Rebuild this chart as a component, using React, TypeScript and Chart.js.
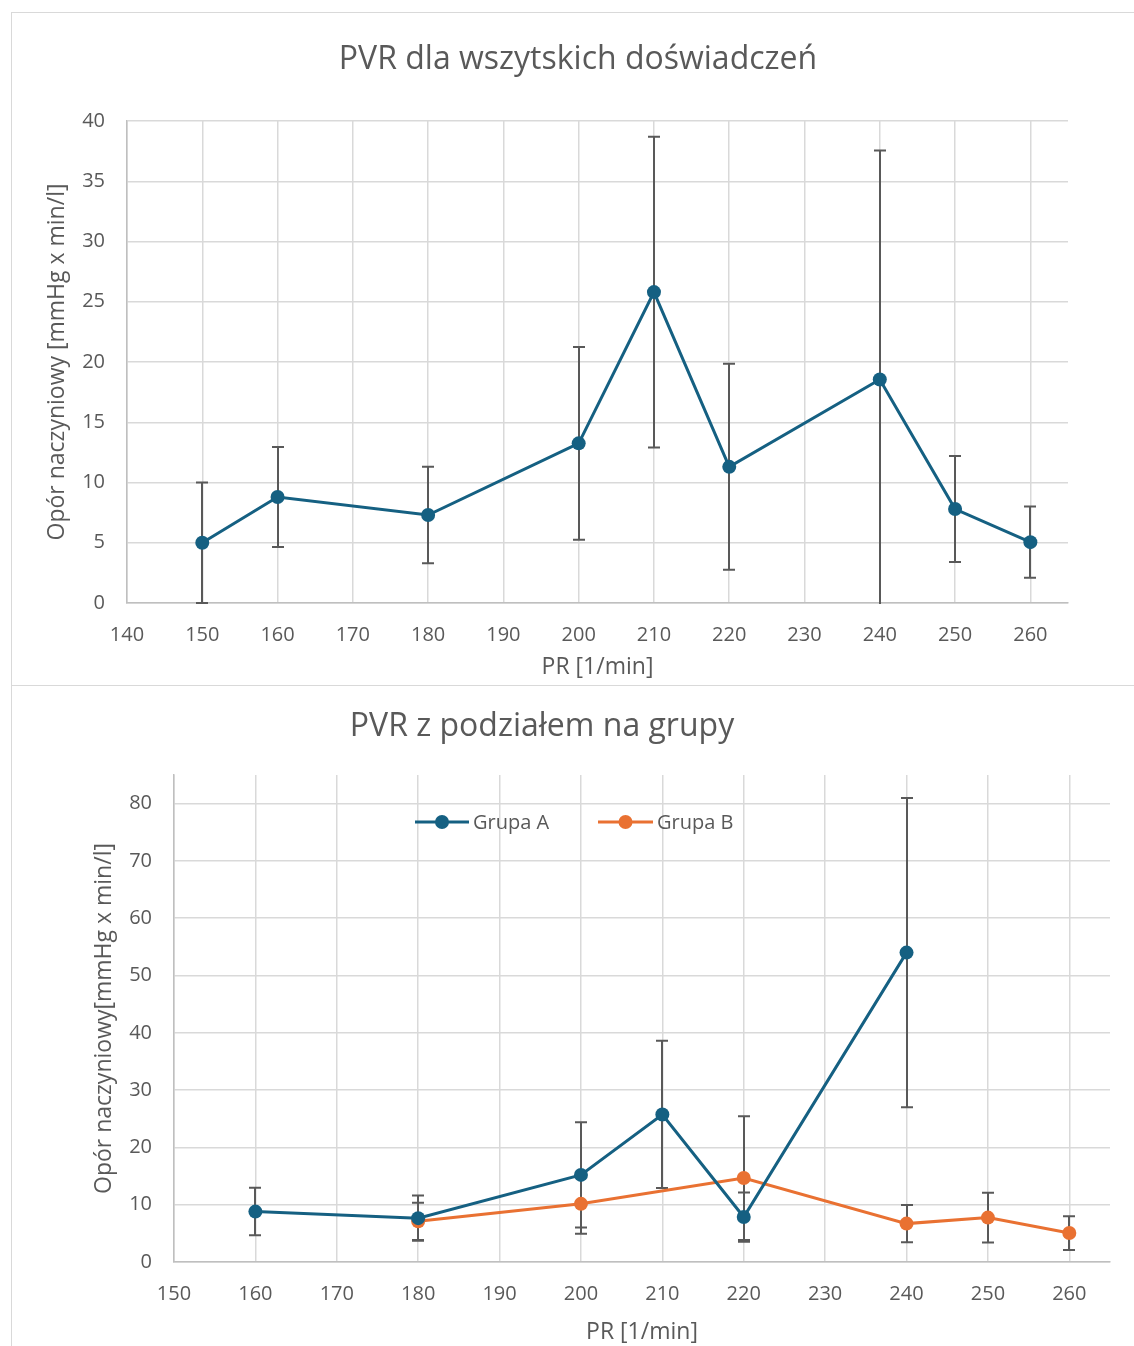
import React, { useEffect, useRef } from "react";
import { Chart, registerables } from "chart.js";

Chart.register(...registerables);

const FONT = "'Open Sans', 'Noto Sans', sans-serif";
const TEXT = "#595959";
const GRID = "#d9d9d9";
const AXIS = "#bfbfbf";
const BLUE = "#156082";
const ORANGE = "#e97132";

// PVR dla wszystkich doświadczeń
const prAll = [150, 160, 180, 200, 210, 220, 240, 250, 260];
const pvrAll = [5.0, 8.8, 7.3, 13.25, 25.8, 11.3, 18.55, 7.8, 5.05];
const sdAll = [5.0, 4.15, 4.0, 8.0, 12.9, 8.55, 19.0, 4.4, 2.95];

// Grupa A
const prA = [160, 180, 200, 210, 220, 240];
const pvrA = [8.8, 7.65, 15.2, 25.75, 7.85, 54.0];
const sdA = [4.15, 3.95, 9.2, 12.85, 4.3, 27.0];

// Grupa B
const prB = [180, 200, 220, 240, 250, 260];
const pvrB = [7.1, 10.15, 14.65, 6.7, 7.75, 5.05];
const sdB = [3.25, 5.2, 10.8, 3.25, 4.35, 2.95];

// Tick values
const xTicksTop = [140, 150, 160, 170, 180, 190, 200, 210, 220, 230, 240, 250, 260];
const yTicksTop = [0, 5, 10, 15, 20, 25, 30, 35, 40];
const xTicksBottom = [150, 160, 170, 180, 190, 200, 210, 220, 230, 240, 250, 260];
const yTicksBottom = [0, 10, 20, 30, 40, 50, 60, 70, 80];

Chart.defaults.font.family = FONT;
Chart.defaults.color = TEXT;

const toPoints = (xs: number[], ys: number[]) => xs.map((x, i) => ({ x, y: ys[i] }));

// Symmetric error bars taken from each dataset's `errors` array
const errorBarsPlugin = {
  id: "errorBars",
  beforeDatasetsDraw(chart: any, _args: any, opts: any) {
    const { ctx, chartArea, scales } = chart;
    const xs = scales.x;
    const ys = scales.y;
    ctx.save();
    ctx.beginPath();
    ctx.rect(chartArea.left - 10, chartArea.top - 2, chartArea.width + 20, chartArea.height + 3);
    ctx.clip();
    ctx.strokeStyle = opts.color;
    ctx.lineWidth = opts.width;
    chart.data.datasets.forEach((ds: any) => {
      (ds.data as { x: number; y: number }[]).forEach((p, i) => {
        const e = ds.errors ? ds.errors[i] : null;
        if (e == null) return;
        const px = Math.round(xs.getPixelForValue(p.x));
        const hi = ys.getPixelForValue(p.y + e);
        const lo = ys.getPixelForValue(p.y - e);
        ctx.beginPath();
        ctx.moveTo(px, hi);
        ctx.lineTo(px, lo);
        ctx.moveTo(px - opts.cap, hi);
        ctx.lineTo(px + opts.cap, hi);
        ctx.moveTo(px - opts.cap, lo);
        ctx.lineTo(px + opts.cap, lo);
        ctx.stroke();
      });
    });
    ctx.restore();
  },
};

// Chart heading drawn at a fixed spot on the canvas
const headingPlugin = {
  id: "heading",
  afterDraw(chart: any, _args: any, opts: any) {
    const ctx = chart.ctx;
    ctx.save();
    ctx.font = `${opts.size}px ${FONT}`;
    ctx.fillStyle = opts.color;
    ctx.textAlign = "center";
    ctx.textBaseline = "middle";
    ctx.fillText(opts.text, opts.x, opts.y);
    ctx.restore();
  },
};

// Legend placed inside the plot area: line + marker + label per series
const inlineLegendPlugin = {
  id: "inlineLegend",
  afterDraw(chart: any, _args: any, opts: any) {
    if (!opts.items) return;
    const ctx = chart.ctx;
    ctx.save();
    ctx.font = `${opts.size}px ${FONT}`;
    ctx.textBaseline = "middle";
    ctx.textAlign = "left";
    opts.items.forEach((it: any) => {
      const ds = chart.data.datasets[it.dataset];
      ctx.strokeStyle = ds.borderColor;
      ctx.lineWidth = ds.borderWidth;
      ctx.beginPath();
      ctx.moveTo(it.from, opts.y);
      ctx.lineTo(it.to, opts.y);
      ctx.stroke();
      ctx.fillStyle = ds.pointBackgroundColor;
      ctx.beginPath();
      ctx.arc((it.from + it.to) / 2, opts.y, ds.pointRadius, 0, Math.PI * 2);
      ctx.fill();
      ctx.fillStyle = opts.color;
      ctx.fillText(ds.label, it.text, opts.y + 1);
    });
    ctx.restore();
  },
};

const seriesStyle = (color: string) => ({
  borderColor: color,
  backgroundColor: color,
  borderWidth: 3,
  pointRadius: 7,
  pointHoverRadius: 7,
  pointBackgroundColor: color,
  pointBorderColor: color,
  pointBorderWidth: 0,
  tension: 0,
});

const axisX = (min: number, max: number, ticks: number[], height: number, titlePad: number) => ({
  type: "linear",
  min,
  max,
  afterBuildTicks: (s: any) => {
    s.ticks = ticks.map((value) => ({ value }));
  },
  afterFit: (s: any) => {
    s.height = height;
  },
  grid: { color: GRID, lineWidth: 1.5, drawTicks: false },
  border: { color: AXIS, width: 1.5 },
  ticks: { padding: 20, color: TEXT, font: { size: 20 } },
  title: {
    display: true,
    text: "PR [1/min]",
    color: TEXT,
    font: { size: 23 },
    padding: { top: 0, bottom: titlePad },
  },
});

const axisY = (max: number, ticks: number[], width: number, titlePad: number, title: string) => ({
  type: "linear",
  min: 0,
  max,
  afterBuildTicks: (s: any) => {
    s.ticks = ticks.map((value) => ({ value }));
  },
  afterFit: (s: any) => {
    s.width = width;
  },
  grid: { color: GRID, lineWidth: 1.5, drawTicks: false },
  border: { color: AXIS, width: 1.5 },
  ticks: { padding: 22, color: TEXT, font: { size: 20 } },
  title: {
    display: true,
    text: title,
    color: TEXT,
    font: { size: 23 },
    padding: { top: titlePad, bottom: 0 },
  },
});

function topConfig(): any {
  return {
    type: "line",
    data: {
      datasets: [
        { label: "PVR", data: toPoints(prAll, pvrAll), errors: sdAll, ...seriesStyle(BLUE) },
      ],
    },
    options: {
      responsive: false,
      animation: false,
      events: [],
      layout: { padding: { left: 0, right: 66, top: 108, bottom: 0 } },
      scales: {
        x: axisX(140, 265, xTicksTop, 82, 4),
        y: axisY(40, yTicksTop, 115, 32, "Opór naczyniowy [mmHg x min/l]"),
      },
      plugins: {
        legend: { display: false },
        tooltip: { enabled: false },
        heading: { text: "PVR dla wszytskich doświadczeń", x: 566, y: 47, size: 32, color: TEXT },
        errorBars: { color: "#595959", width: 2, cap: 6 },
      },
    },
    plugins: [errorBarsPlugin, headingPlugin],
  };
}

function bottomConfig(): any {
  return {
    type: "line",
    data: {
      datasets: [
        { label: "Grupa A", data: toPoints(prA, pvrA), errors: sdA, ...seriesStyle(BLUE) },
        { label: "Grupa B", data: toPoints(prB, pvrB), errors: sdB, ...seriesStyle(ORANGE) },
      ],
    },
    options: {
      responsive: false,
      animation: false,
      events: [],
      layout: { padding: { left: 0, right: 24, top: 89, bottom: 0 } },
      scales: {
        x: axisX(150, 265, xTicksBottom, 84, 0),
        y: axisY(85, yTicksBottom, 162, 79, "Opór naczyniowy[mmHg x min/l]"),
      },
      plugins: {
        legend: { display: false },
        tooltip: { enabled: false },
        heading: { text: "PVR z podziałem na grupy", x: 530, y: 41, size: 32, color: TEXT },
        errorBars: { color: "#595959", width: 2, cap: 6 },
        inlineLegend: {
          y: 136,
          size: 20,
          color: TEXT,
          items: [
            { dataset: 0, from: 403, to: 457, text: 461 },
            { dataset: 1, from: 586, to: 641, text: 645 },
          ],
        },
      },
    },
    plugins: [errorBarsPlugin, headingPlugin, inlineLegendPlugin],
  };
}

function ChartPanel(props: { top: number; height: number; make: () => any }) {
  const ref = useRef<HTMLCanvasElement | null>(null);
  useEffect(() => {
    if (!ref.current) return;
    const chart = new Chart(ref.current, props.make());
    return () => chart.destroy();
  }, []);
  const w = 1122;
  const h = props.height - 1;
  return (
    <div
      style={{
        position: "absolute",
        left: 11,
        top: props.top,
        width: 1123,
        height: props.height,
        boxSizing: "border-box",
        borderLeft: `1px solid ${GRID}`,
        borderTop: `1px solid ${GRID}`,
        background: "#fff",
      }}
    >
      <canvas ref={ref} width={w} height={h} style={{ display: "block", width: w, height: h }} />
    </div>
  );
}

export default function App() {
  return (
    <div>
      <ChartPanel top={12} height={673} make={topConfig} />
      <ChartPanel top={685} height={661} make={bottomConfig} />
    </div>
  );
}
